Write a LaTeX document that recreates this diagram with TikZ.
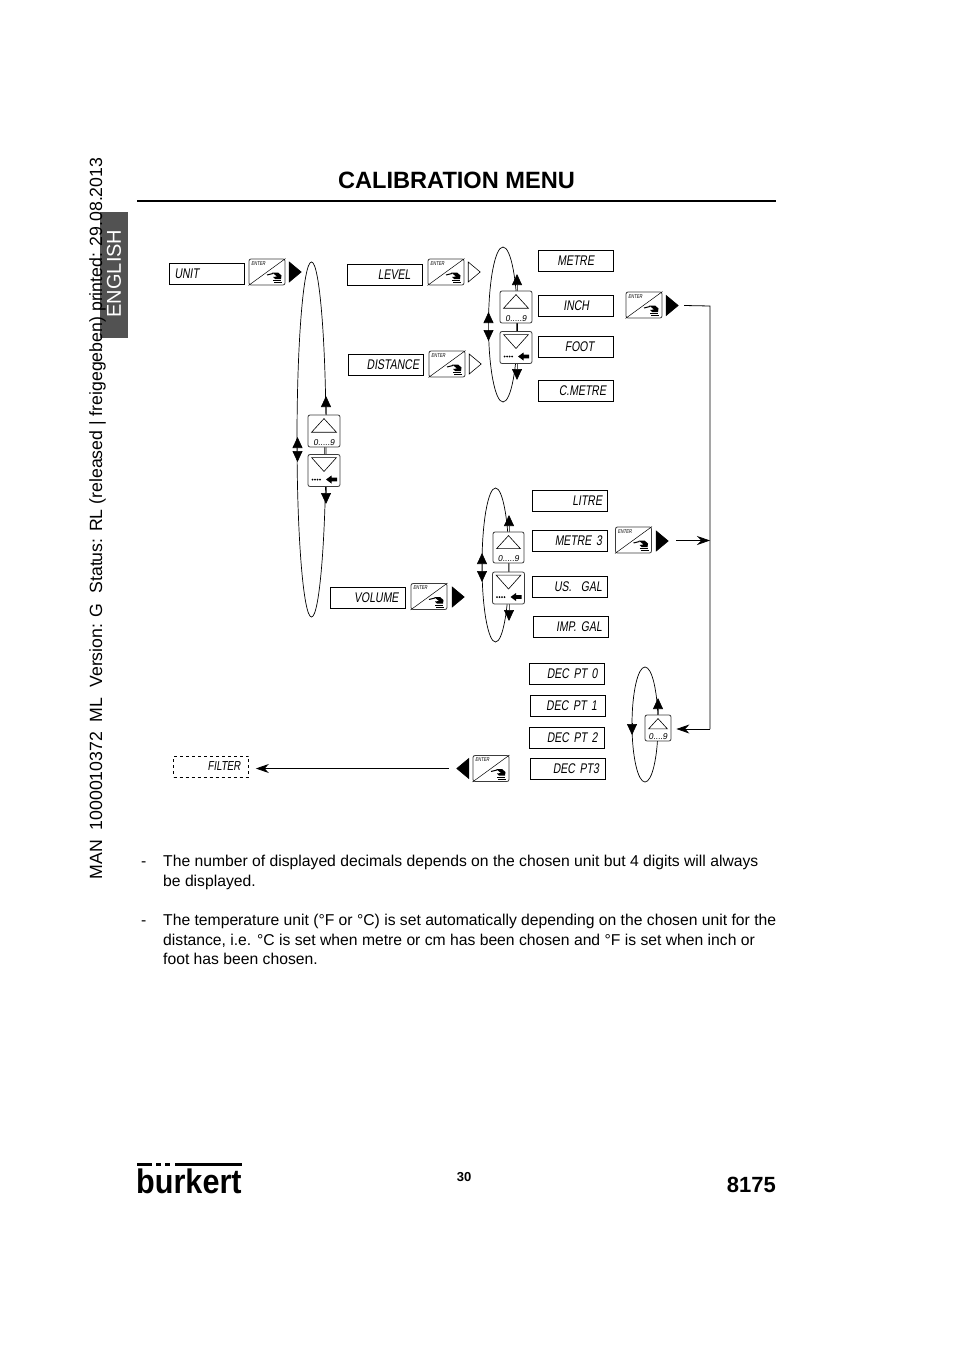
\documentclass[tikz,border=0pt]{standalone}
\usepackage{fontspec}
\setmainfont{Liberation Sans}
\newfontfamily\lcdfont[FakeSlant=0.15,FakeStretch=0.75]{Liberation Sans}
\newfontfamily\digitfont[FakeSlant=0.15]{Liberation Sans}
\newfontfamily\logofont[FakeStretch=0.9]{Liberation Sans}
\usepackage{xcolor}
\usetikzlibrary{arrows.meta,positioning,calc,shapes.geometric}
\definecolor{inkkey}{RGB}{60,60,60}
\definecolor{tabgray}{RGB}{82,82,82}
\newcommand{\enterkey}[3]{%
  \node[keybox,minimum width=36,minimum height=26] (#1) at (#2,#3) {};
  \draw[line width=.5] (#1.south west) -- (#1.north east);
  \node[enterlbl,anchor=north west] (#1t) at ([xshift=2.5,yshift=-2.5]#1.north west) {ENTER};
  \begin{scope}[shift={(#1.center)}]
    \draw[line width=1] (0,3) -- (6,1.5);
    \fill (5,.5) -- (11,.5) -- (14.5,3.5) -- (14,7) -- (8,7) -- (6,5) -- (10,4.5) -- cycle;
    \draw[line width=.7] (6,8.5) -- (14,8.5);
    \draw[line width=.7] (7,10.5) -- (15,10.5);
  \end{scope}}
\newcommand{\upkey}[5]{%
  \node[keybox,minimum width=#4,minimum height=#4] (#1) at (#2,#3) {};
  \draw[line width=.6] ([shift={(4,.55*#4)}]#1.north west) -- ([yshift=-4]#1.north) -- ([shift={(-4,.55*#4)}]#1.north east) -- cycle;
  \node[digitlbl,anchor=south] (#1t) at ([yshift=2]#1.south) {#5};}
\newcommand{\downkey}[3]{%
  \node[keybox,minimum width=32,minimum height=32] (#1) at (#2,#3) {};
  \draw[line width=.6] ([shift={(4,3.5)}]#1.north west) -- ([shift={(-4,3.5)}]#1.north east) -- ([yshift=-1]#1.center) -- cycle;
  \begin{scope}[shift={(#1.center)}]
    \foreach \dx in {-11.5,-9,-6.5,-4} \fill (\dx,9) circle (1);
    \fill (2,9) -- (7.5,5) -- (7.5,7.2) -- (13,7.2) -- (13,10.8) -- (7.5,10.8) -- (7.5,13) -- cycle;
  \end{scope}}
\tikzset{x=1pt,y=-1pt,
  disp/.style={draw,line width=.7,minimum height=21,inner xsep=#1,inner ysep=0,
    text width={75pt-2*#1pt},align=right,font=\lcdfont\fontsize{14}{14}\selectfont},
  keybox/.style={draw=inkkey,fill=white,rounded corners=2pt,line width=.8,inner sep=0},
  enterlbl/.style={inner sep=0,font=\lcdfont\fontsize{5.5}{6}\selectfont},
  digitlbl/.style={inner sep=0,font=\digitfont\fontsize{8.5}{9}\selectfont},
  ring/.style={draw,ellipse,line width=.7,inner sep=0},
  tri/.style={draw,isosceles triangle,isosceles triangle stretches,inner sep=0,line width=.6,
    minimum width=20,minimum height=12,anchor=apex},
  solidtri/.style={tri,fill=black},
  tip/.style={-{Triangle[length=11pt,width=10pt]},line width=.7},
  stem/.style={-{Triangle[length=11pt,width=10pt,color=black]},line width=.7,draw=black!65},
  conn/.style={line width=.8},
  body/.style={inner sep=0,align=left,anchor=north west,font=\fontsize{15.7}{19.5}\selectfont}}
\begin{document}
\begin{tikzpicture}
  \useasboundingbox (0,0) rectangle (954,1354);
  \fill[white] (0,0) rectangle (954,1354);
  \node[fill=tabgray,minimum width=28,minimum height=126,inner sep=0] (tab) at (114,275) {};
  \node[rotate=90,text=white,inner sep=0,font=\fontsize{20}{20}\selectfont] (lang) at (114,273.5) {ENGLISH};
  \node[rotate=90,inner sep=0,font=\fontsize{17.7}{17.7}\selectfont] (margin) at (97.5,518.5) {MAN\ \ 1000010372\ \ ML\ \ Version: G\ \ Status: RL (released | freigegeben) printed: 29.08.2013};
  \node[inner sep=0,font=\bfseries\fontsize{23.6}{24}\selectfont] (title) at (456.5,180) {CALIBRATION MENU};
  \draw[line width=1.6] (137,201) -- (776,201);

  \node[ring,minimum width=29,minimum height=355] (ringA) at (311.5,439.5) {};
  \node[ring,minimum width=29,minimum height=155] (ringB) at (503,324.5) {};
  \node[ring,minimum width=27,minimum height=154] (ringC) at (495.5,565) {};
  \node[ring,minimum width=26,minimum height=115] (ringD) at (645,724.5) {};

  \node[disp=5,align=left] (unit) at (207,274) {UNIT};
  \node[disp=12] (level) at (385,274.5) {LEVEL};
  \node[disp=4] (distance) at (385.5,365) {DISTANCE};
  \node[disp=7] (volume) at (368,598) {VOLUME};
  \node[disp=19] (metre) at (575.5,260.5) {METRE};
  \node[disp=24] (inch) at (575.5,305.5) {INCH};
  \node[disp=19] (foot) at (575.5,347) {FOOT};
  \node[disp=7] (cmetre) at (575.5,391) {C.METRE};
  \node[disp=5] (litre) at (569.5,500.5) {LITRE};
  \node[disp=5] (metrethree) at (569.5,541) {METRE 3};
  \node[disp=5] (usgal) at (569.5,587) {US.\ \ GAL};
  \node[disp=6] (impgal) at (570.5,627) {IMP. GAL};
  \node[disp=7] (deczero) at (567,673.5) {DEC PT 0};
  \node[disp=8] (decone) at (567.5,706) {DEC PT 1};
  \node[disp=7] (dectwo) at (567,738) {DEC PT 2};
  \node[disp=6] (decthree) at (567.5,768.5) {DEC PT3};
  \node[disp=8,draw,dashed] (filter) at (211,766.5) {\fontsize{13}{13}\selectfont FILTER};

  \enterkey{enterUnit}{267}{272}
  \enterkey{enterLevel}{446}{272}
  \enterkey{enterDist}{447}{364}
  \enterkey{enterInch}{644}{305}
  \enterkey{enterMetre}{633.5}{540}
  \enterkey{enterVol}{429}{596.5}
  \enterkey{enterDec}{491}{768.5}

  \node[solidtri] (triUnit) at (302,272) {};
  \node[tri] (triLevel) at (481,272) {};
  \node[tri] (triDist) at (482,364) {};
  \node[solidtri] (triInch) at (679,305.5) {};
  \node[solidtri] (triMetre) at (669,541) {};
  \node[solidtri] (triVol) at (465,597) {};
  \node[solidtri,shape border rotate=180] (triDec) at (456,768.5) {};

  \upkey{upA}{324}{431}{32}{0.....9}
  \downkey{downA}{324}{470.5}
  \upkey{upB}{516}{307}{32}{0.....9}
  \downkey{downB}{516}{347.5}
  \upkey{upC}{508.5}{547.5}{31}{0.....9}
  \downkey{downC}{508.5}{588}
  \upkey{upD}{658}{728}{26}{0....9}

  \coordinate (tipAup) at (326,396);
  \coordinate (tipAdn) at (326,504);
  \coordinate (midA) at (297.5,449.5);
  \coordinate (tipBup) at (517,274);
  \coordinate (tipBdn) at (517,380);
  \coordinate (midB) at (488.5,326);
  \coordinate (tipCup) at (509,515);
  \coordinate (tipCdn) at (509,621);
  \coordinate (midC) at (482,566.5);
  \coordinate (tipDup) at (658,698);
  \coordinate (tipDdn) at (632,735);
  \coordinate (jointInch) at (710,306);
  \coordinate (jointDec) at (710,729);
  \coordinate (startMetre) at (676,540.5);
  \coordinate (jointMetre) at (710,540.5);

  \draw[stem] (upA.north -| tipAup) -- (tipAup);
  \draw[stem] (downA.south -| tipAdn) -- (tipAdn);
  \draw[stem] (midA) -- ++(0,-12.5);
  \draw[stem] (midA) -- ++(0,12.5);
  \draw[conn,draw=black!65] (upA) -- (downA);
  \draw[stem] (upB.north -| tipBup) -- (tipBup);
  \draw[stem] (downB.south -| tipBdn) -- (tipBdn);
  \draw[stem] (midB) -- ++(0,-14);
  \draw[stem] (midB) -- ++(0,15);
  \draw[conn,draw=black!65] (upB) -- (downB);
  \draw[stem] (upC.north -| tipCup) -- (tipCup);
  \draw[stem] (downC.south -| tipCdn) -- (tipCdn);
  \draw[stem] (midC) -- ++(0,-13.5);
  \draw[stem] (midC) -- ++(0,15.5);
  \draw[conn,draw=black!65] (upC) -- (downC);
  \draw[stem] (upD.north -| tipDup) -- (tipDup);
  \draw[tip] ($(tipDdn)+(0,-12)$) -- (tipDdn);

  \draw[conn] ([xshift=5]triInch.apex) -- (jointInch) -- (jointDec);
  \draw[conn,-{Stealth[length=13pt,width=9pt]}] (jointDec) -- ([xshift=5]upD.east |- jointDec);
  \draw[conn,-{Stealth[length=13pt,width=9pt]}] (startMetre) -- (jointMetre);
  \draw[conn,-{Stealth[length=13pt,width=9pt]}] ([xshift=-7]triDec.apex) -- ([xshift=7]filter.east |- triDec.apex);

  \node[body] (dashA) at (141,853) {\strut-};
  \node[body] (noteA) at (163,853) {\strut The number of displayed decimals depends on the chosen unit but 4 digits will always\\be displayed.};
  \node[body] (dashB) at (141,912) {\strut-};
  \node[body] (noteB) at (163,912) {\strut The temperature unit (°F or °C) is set automatically depending on the chosen unit for the\\distance, i.e. °C is set when metre or cm has been chosen and °F is set when inch or\\foot has been chosen.};

  \fill (137,1162.5) rectangle (152,1166);
  \fill (156,1162.5) rectangle (161,1166);
  \fill (165,1162.5) rectangle (170,1166);
  \fill (175,1162.5) rectangle (242,1166);
  \node[inner sep=0,anchor=base west,font=\logofont\bfseries\fontsize{34}{34}\selectfont] (logo) at (136,1193) {burkert};
  \node[inner sep=0,font=\bfseries\fontsize{13}{13}\selectfont] (page) at (464,1177) {30};
  \node[inner sep=0,anchor=east,font=\bfseries\fontsize{22}{22}\selectfont] (model) at (776,1185) {8175};
\end{tikzpicture}
\end{document}
